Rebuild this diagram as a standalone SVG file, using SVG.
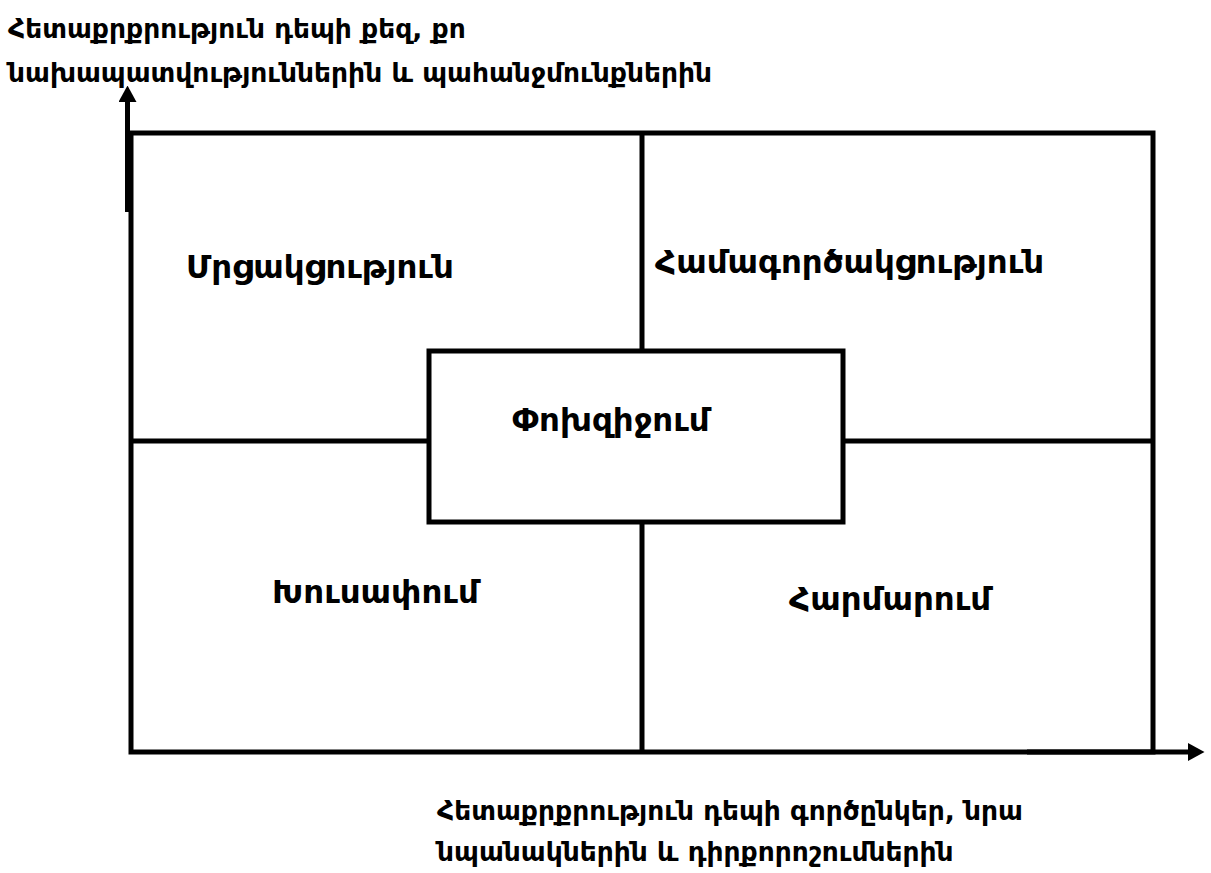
<svg xmlns="http://www.w3.org/2000/svg" width="1211" height="873" viewBox="0 0 1211 873">
<style>
.ln{stroke:#000;stroke-width:5;fill:none}
.lbl{font-family:"DejaVu Sans","Noto Sans",sans-serif;font-weight:bold;font-size:32.5px;fill:#000}
.ax{font-family:"DejaVu Sans","Noto Sans",sans-serif;font-weight:bold;font-size:26.5px;fill:#000}
</style>
<defs>
<marker id="ah" markerWidth="3.3" markerHeight="3.6" refX="0" refY="1.8" orient="auto" markerUnits="strokeWidth">
<path d="M0,0 L3.3,1.8 L0,3.6 Z" fill="#000"/>
</marker>
</defs>
<rect width="1211" height="873" fill="#fff"/>
<g id="connectors">
<line class="ln" x1="642" y1="133" x2="642" y2="351"/>
<line class="ln" x1="642" y1="522" x2="642" y2="752"/>
<line class="ln" x1="131" y1="441" x2="429" y2="441"/>
<line class="ln" x1="843" y1="441" x2="1153" y2="441"/>
<line class="ln" x1="127.5" y1="212" x2="127.5" y2="102" marker-end="url(#ah)"/>
<line class="ln" x1="1027" y1="752" x2="1188" y2="752" marker-end="url(#ah)"/>
</g>
<g id="frame">
<rect class="ln" x="131" y="133" width="1022" height="619"/>
</g>
<g id="node-center">
<rect class="ln" x="429" y="351" width="414" height="171" fill="#fff"/>
<text class="lbl" x="512" y="431">Փոխզիջում</text>
</g>
<g id="node-competition"><text class="lbl" x="186" y="278">Մրցակցություն</text></g>
<g id="node-collaboration"><text class="lbl" x="655" y="273">Համագործակցություն</text></g>
<g id="node-avoiding"><text class="lbl" x="272" y="603">Խուսափում</text></g>
<g id="node-accommodating"><text class="lbl" x="789" y="610">Հարմարում</text></g>
<g id="axis-y"><text class="ax" x="8" y="38">Հետաքրքրություն դեպի քեզ, քո</text><text class="ax" x="8" y="82">նախապատվություններին և պահանջմունքներին</text></g>
<g id="axis-x"><text class="ax" x="437" y="820">Հետաքրքրություն դեպի գործընկեր, նրա</text><text class="ax" x="437" y="861">նպանակներին և դիրքորոշումներին</text></g>
</svg>
